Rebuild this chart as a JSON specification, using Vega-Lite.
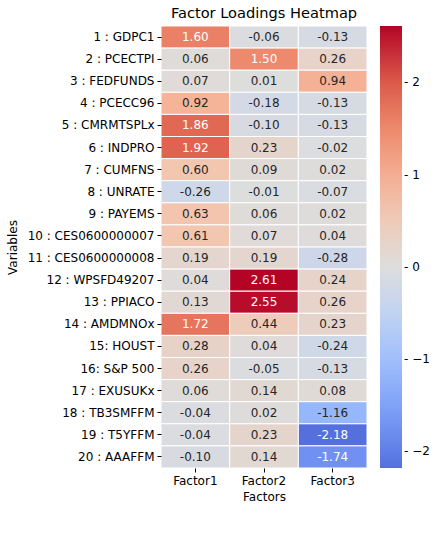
{
  "$schema": "https://vega.github.io/schema/vega-lite/v6.json",
  "width": 206,
  "height": 442,
  "padding": {"left": 6, "top": 5, "right": 5, "bottom": 5},
  "background": "white",
  "title": {"text": "Factor Loadings Heatmap", "fontSize": 14.6, "fontWeight": "normal", "font": "DejaVu Sans", "color": "black", "offset": 5},
  "data": {"values": [
    {"var": "1 : GDPC1", "factor": "Factor1", "v": 1.60}, {"var": "1 : GDPC1", "factor": "Factor2", "v": -0.06}, {"var": "1 : GDPC1", "factor": "Factor3", "v": -0.13},
    {"var": "2 : PCECTPI", "factor": "Factor1", "v": 0.06}, {"var": "2 : PCECTPI", "factor": "Factor2", "v": 1.50}, {"var": "2 : PCECTPI", "factor": "Factor3", "v": 0.26},
    {"var": "3 : FEDFUNDS", "factor": "Factor1", "v": 0.07}, {"var": "3 : FEDFUNDS", "factor": "Factor2", "v": 0.01}, {"var": "3 : FEDFUNDS", "factor": "Factor3", "v": 0.94},
    {"var": "4 : PCECC96", "factor": "Factor1", "v": 0.92}, {"var": "4 : PCECC96", "factor": "Factor2", "v": -0.18}, {"var": "4 : PCECC96", "factor": "Factor3", "v": -0.13},
    {"var": "5 : CMRMTSPLx", "factor": "Factor1", "v": 1.86}, {"var": "5 : CMRMTSPLx", "factor": "Factor2", "v": -0.10}, {"var": "5 : CMRMTSPLx", "factor": "Factor3", "v": -0.13},
    {"var": "6 : INDPRO", "factor": "Factor1", "v": 1.92}, {"var": "6 : INDPRO", "factor": "Factor2", "v": 0.23}, {"var": "6 : INDPRO", "factor": "Factor3", "v": -0.02},
    {"var": "7 : CUMFNS", "factor": "Factor1", "v": 0.60}, {"var": "7 : CUMFNS", "factor": "Factor2", "v": 0.09}, {"var": "7 : CUMFNS", "factor": "Factor3", "v": 0.02},
    {"var": "8 : UNRATE", "factor": "Factor1", "v": -0.26}, {"var": "8 : UNRATE", "factor": "Factor2", "v": -0.01}, {"var": "8 : UNRATE", "factor": "Factor3", "v": -0.07},
    {"var": "9 : PAYEMS", "factor": "Factor1", "v": 0.63}, {"var": "9 : PAYEMS", "factor": "Factor2", "v": 0.06}, {"var": "9 : PAYEMS", "factor": "Factor3", "v": 0.02},
    {"var": "10 : CES0600000007", "factor": "Factor1", "v": 0.61}, {"var": "10 : CES0600000007", "factor": "Factor2", "v": 0.07}, {"var": "10 : CES0600000007", "factor": "Factor3", "v": 0.04},
    {"var": "11 : CES0600000008", "factor": "Factor1", "v": 0.19}, {"var": "11 : CES0600000008", "factor": "Factor2", "v": 0.19}, {"var": "11 : CES0600000008", "factor": "Factor3", "v": -0.28},
    {"var": "12 : WPSFD49207", "factor": "Factor1", "v": 0.04}, {"var": "12 : WPSFD49207", "factor": "Factor2", "v": 2.61}, {"var": "12 : WPSFD49207", "factor": "Factor3", "v": 0.24},
    {"var": "13 : PPIACO", "factor": "Factor1", "v": 0.13}, {"var": "13 : PPIACO", "factor": "Factor2", "v": 2.55}, {"var": "13 : PPIACO", "factor": "Factor3", "v": 0.26},
    {"var": "14 : AMDMNOx", "factor": "Factor1", "v": 1.72}, {"var": "14 : AMDMNOx", "factor": "Factor2", "v": 0.44}, {"var": "14 : AMDMNOx", "factor": "Factor3", "v": 0.23},
    {"var": "15: HOUST", "factor": "Factor1", "v": 0.28}, {"var": "15: HOUST", "factor": "Factor2", "v": 0.04}, {"var": "15: HOUST", "factor": "Factor3", "v": -0.24},
    {"var": "16: S&P 500", "factor": "Factor1", "v": 0.26}, {"var": "16: S&P 500", "factor": "Factor2", "v": -0.05}, {"var": "16: S&P 500", "factor": "Factor3", "v": -0.13},
    {"var": "17 : EXUSUKx", "factor": "Factor1", "v": 0.06}, {"var": "17 : EXUSUKx", "factor": "Factor2", "v": 0.14}, {"var": "17 : EXUSUKx", "factor": "Factor3", "v": 0.08},
    {"var": "18 : TB3SMFFM", "factor": "Factor1", "v": -0.04}, {"var": "18 : TB3SMFFM", "factor": "Factor2", "v": 0.02}, {"var": "18 : TB3SMFFM", "factor": "Factor3", "v": -1.16},
    {"var": "19 : T5YFFM", "factor": "Factor1", "v": -0.04}, {"var": "19 : T5YFFM", "factor": "Factor2", "v": 0.23}, {"var": "19 : T5YFFM", "factor": "Factor3", "v": -2.18},
    {"var": "20 : AAAFFM", "factor": "Factor1", "v": -0.10}, {"var": "20 : AAAFFM", "factor": "Factor2", "v": 0.14}, {"var": "20 : AAAFFM", "factor": "Factor3", "v": -1.74}
  ]},
  "encoding": {
    "x": {"field": "factor", "type": "nominal", "sort": null, "title": "Factors",
      "axis": {"labelAngle": 0, "domain": false, "ticks": true, "tickSize": 4, "tickColor": "black", "labelPadding": 3, "titlePadding": 5}},
    "y": {"field": "var", "type": "nominal", "sort": null, "title": "Variables",
      "axis": {"domain": false, "ticks": true, "tickSize": 4, "tickColor": "black", "labelPadding": 3, "titlePadding": 8}}
  },
  "layer": [
    {"mark": {"type": "rect", "stroke": "white", "strokeWidth": 1},
     "encoding": {
       "color": {"field": "v", "type": "quantitative",
         "scale": {"domain": [-2.18, -1.9575, -1.305, -0.6525, 0, 0.6525, 1.305, 1.9575, 2.61],
                   "range": ["#5570dc", "#6282ea", "#8db0fe", "#b8d0f9", "#dddddd", "#f5c4ac", "#f49a7b", "#de604d", "#b40426"],
                   "interpolate": "rgb"},
         "legend": {"title": null, "values": [-2, -1, 0, 1, 2], "format": "d", "gradientLength": 442, "gradientThickness": 22,
                    "gradientStrokeWidth": 0, "offset": 13, "padding": 0, "labelOffset": 2,
                    "labelExpr": "'- ' + replace(datum.label, '-', '\u2212')"}}
     }},
    {"mark": {"type": "text", "baseline": "middle", "fontSize": 12, "font": "DejaVu Sans"},
     "encoding": {
       "text": {"field": "v", "type": "quantitative", "format": ".2f"},
       "color": {"condition": {"test": "datum.v > 1.3 || datum.v < -1.5", "value": "white"}, "value": "#262626"}
     }}
  ],
  "config": {
    "locale": {"number": {"decimal": ".", "thousands": ",", "grouping": [3], "currency": ["$", ""], "minus": "-"}},
    "view": {"stroke": null},
    "font": "DejaVu Sans",
    "axis": {"labelFont": "DejaVu Sans", "labelFontSize": 12, "labelColor": "black", "titleFont": "DejaVu Sans", "titleFontSize": 12, "titleFontWeight": "normal", "titleColor": "black"},
    "legend": {"labelFont": "DejaVu Sans", "labelFontSize": 12, "labelColor": "black"}
  }
}
